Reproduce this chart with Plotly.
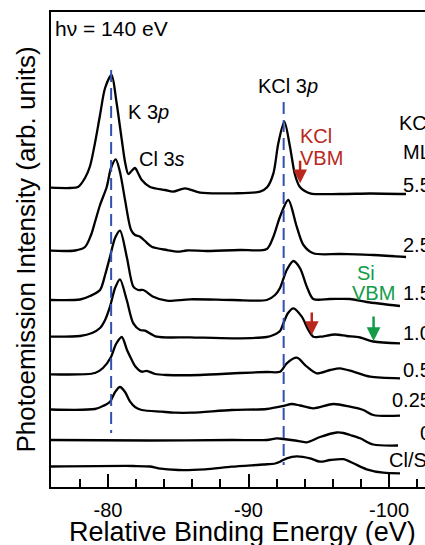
import plotly.graph_objects as go

# ---------------- data (relative binding energy in eV, intensity in arb. units, stacked) ----------------
E_55 = [-75.94, -77.30, -77.86, -78.36, -78.72, -79.07, -79.43, -79.79, -80.25, -80.60, -80.98, -81.21,
        -81.44, -81.67, -81.92, -82.17, -82.40, -82.99, -84.06, -84.63, -85.48, -86.55, -88.90, -90.82,
        -91.32, -91.77, -92.12, -92.55, -92.95, -93.31, -93.67, -94.38, -96.51, -98.65, -101.21]
I_55 = [29.93, 29.90, 30.00, 30.90, 32.10, 34.40, 37.20, 39.90, 41.20, 38.50, 34.70, 32.50,
        31.30, 31.60, 31.90, 31.30, 30.70, 30.00, 29.70, 29.53, 29.87, 29.43, 29.37, 29.53,
        29.97, 31.37, 34.37, 36.53, 34.03, 31.20, 29.97, 29.37, 29.30, 29.35, 29.30]

E_25 = [-75.94, -77.65, -78.36, -78.79, -79.07, -79.43, -79.91, -80.21, -80.55, -80.85, -81.21, -81.64,
        -81.92, -82.28, -82.63, -83.11, -84.18, -84.98, -85.60, -87.02, -89.39, -91.30, -91.77, -92.24,
        -92.83, -93.43, -93.91, -94.61, -96.51, -98.88, -101.21]
I_25 = [23.63, 23.65, 24.00, 25.20, 26.50, 28.20, 30.03, 31.90, 32.77, 31.50, 28.70, 25.70,
        25.20, 25.03, 24.60, 24.03, 23.70, 23.53, 23.65, 23.60, 23.70, 23.80, 25.03, 27.03,
        28.70, 26.03, 24.20, 23.37, 23.30, 23.20, 23.00]

E_15 = [-75.94, -78.01, -78.72, -79.43, -79.79, -80.14, -80.50, -80.85, -81.33, -81.80, -82.14, -82.51,
        -83.22, -84.18, -85.84, -88.90, -91.30, -91.89, -92.24, -92.72, -93.19, -93.67, -94.15, -94.61,
        -95.80, -97.22, -98.41, -100.78]
I_15 = [18.70, 18.75, 19.10, 19.70, 21.20, 23.03, 24.90, 25.63, 23.03, 20.03, 19.70, 19.70,
        19.03, 18.63, 18.77, 18.70, 18.70, 19.20, 19.90, 21.70, 22.60, 21.87, 20.03, 18.80,
        18.80, 18.80, 18.50, 18.10]

E_10 = [-75.94, -78.01, -78.86, -79.43, -79.79, -80.14, -80.50, -80.85, -81.33, -81.80, -82.28, -82.63,
        -83.47, -85.84, -88.92, -91.30, -91.77, -92.24, -92.48, -92.81, -93.19, -93.79, -94.26, -94.61,
        -95.09, -96.16, -96.99, -97.94, -98.88, -100.78]
I_10 = [15.03, 15.10, 15.40, 15.90, 16.70, 18.03, 19.90, 20.77, 18.70, 16.37, 15.70, 15.63,
        15.03, 14.97, 14.87, 15.00, 15.20, 15.60, 16.37, 17.40, 17.87, 17.03, 15.70, 15.03,
        15.03, 15.25, 15.10, 14.95, 14.55, 14.37]

E_05 = [-75.94, -79.07, -79.64, -80.21, -80.57, -80.98, -81.35, -81.69, -81.92, -82.40, -82.75, -83.35,
        -84.18, -86.55, -89.39, -91.30, -92.24, -92.72, -93.43, -94.15, -94.85, -95.80, -96.51, -97.46,
        -98.65, -100.78]
I_05 = [11.27, 11.40, 11.90, 13.00, 14.30, 15.00, 13.70, 12.70, 12.10, 11.53, 11.62, 11.30,
        11.20, 11.20, 11.40, 11.50, 11.53, 12.37, 12.93, 12.03, 11.37, 11.70, 11.87, 11.53,
        11.03, 10.87]

E_025 = [-75.94, -79.07, -79.64, -80.14, -80.50, -80.85, -81.21, -81.57, -81.92, -82.40, -83.82, -84.77,
         -85.96, -88.80, -91.30, -92.48, -93.07, -93.67, -94.61, -96.04, -97.22, -98.17, -98.88, -100.78]
I_025 = [7.75, 7.80, 8.10, 8.53, 9.50, 10.00, 9.50, 8.53, 8.00, 7.70, 7.53, 7.43,
         7.43, 7.70, 7.80, 8.10, 8.30, 8.15, 7.87, 8.30, 8.03, 7.70, 7.20, 7.13]

E_0 = [-75.94, -82.99, -88.80, -91.30, -92.01, -92.48, -93.31, -94.15, -95.09, -96.28, -96.75, -97.22,
       -97.94, -98.88, -100.64]
I_0 = [4.70, 4.65, 4.70, 4.70, 4.87, 4.80, 4.65, 4.47, 5.00, 5.45, 5.40, 5.20,
       4.87, 4.25, 4.15]

E_CLSI = [-75.94, -81.80, -82.99, -83.58, -85.00, -86.90, -88.80, -91.05, -91.89, -92.24, -92.72, -93.43,
          -94.38, -95.09, -95.80, -96.75, -97.46, -98.41, -99.59, -100.78]
I_CLSI = [2.05, 2.10, 2.05, 1.87, 1.70, 1.77, 2.03, 2.25, 2.35, 2.53, 2.87, 3.07,
          2.87, 2.53, 2.70, 2.78, 2.37, 1.77, 1.43, 1.37]

SERIES_E = [E_55, E_25, E_15, E_10, E_05, E_025, E_0, E_CLSI]
SERIES_I = [I_55, I_25, I_15, I_10, I_05, I_025, I_0, I_CLSI]
COVERAGE_LABELS = ["5.5", "2.5", "1.5", "1.0", "0.5", "0.25", "0", "Cl/Si"]
LABEL_Y = [30.2, 24.2, 19.37, 15.37, 11.7, 8.7, 5.37, 2.7]

K3P_E = -80.22
KCL3P_E = -92.5
KCL_VBM_E = [-93.67, -94.5]
KCL_VBM_I = [30.37, 15.2]
SI_VBM_E = -98.9
SI_VBM_I = 14.6

X_TICKS = [-80, -90, -100]
X_TICK_TEXT = ["-80", "-90", "-100"]
X_MINOR = [-78, -82, -84, -86, -88, -92, -94, -96, -98, -102]

FONT = "Liberation Sans, Arial, sans-serif"
RED = "#b8281c"
GREEN = "#129c48"
BLUE = "#3350b0"

fig = go.Figure()
for e, i in zip(SERIES_E, SERIES_I):
    fig.add_trace(go.Scatter(x=e, y=i, mode="lines", line=dict(color="black", width=2.3, shape="spline", smoothing=0.8),
                             showlegend=False, hoverinfo="skip"))

fig.add_trace(go.Scatter(x=[K3P_E, K3P_E], y=[41.7, 5.4], mode="lines",
                         line=dict(color=BLUE, width=2, dash="12px,6px"), showlegend=False))
fig.add_trace(go.Scatter(x=[KCL3P_E, KCL3P_E], y=[38.5, 2.2], mode="lines",
                         line=dict(color=BLUE, width=2, dash="12px,6px"), showlegend=False))

ann = []
def txt(x, y, s, color="black", xanchor="left", size=20, xref="x", yref="y"):
    ann.append(dict(x=x, y=y, xref=xref, yref=yref, text=s, showarrow=False, xanchor=xanchor,
                    yanchor="middle", font=dict(family=FONT, size=size, color=color)))

txt(-76.10, 45.87, "hν = 140 eV", size=21)
txt(-81.28, 37.53, "K 3<i>p</i>")
txt(-82.08, 32.77, "Cl 3<i>s</i>")
txt(-90.55, 40.1, "KCl 3<i>p</i>")
txt(-93.55, 35.1, "KCl", RED)
txt(-93.52, 32.87, "VBM", RED)
txt(-98.35, 21.37, "Si", GREEN, "center")
txt(-98.91, 19.37, "VBM", GREEN, "center")

# labels at the right edge (outside the x range -> paper x)
RIGHT_X = 1.0222
txt(RIGHT_X, 36.4, "KCl", xanchor="right", xref="paper")
txt(RIGHT_X, 33.53, "ML", xanchor="right", xref="paper")
for lab, ly in zip(COVERAGE_LABELS, LABEL_Y):
    txt(RIGHT_X, ly, lab, xanchor="right", xref="paper")

for xe, yi in zip(KCL_VBM_E, KCL_VBM_I):
    ann.append(dict(x=xe, y=yi, xref="x", yref="y", text="", showarrow=True, ax=0, ay=-24,
                    arrowhead=2, arrowsize=1.1, arrowwidth=2.5, arrowcolor=RED))
ann.append(dict(x=SI_VBM_E, y=SI_VBM_I, xref="x", yref="y", text="", showarrow=True, ax=0, ay=-26,
                arrowhead=2, arrowsize=1.1, arrowwidth=2.5, arrowcolor=GREEN))

# axis titles
txt(0.5126, -0.0950, "Relative Binding Energy (eV)", xanchor="center", size=27, xref="paper", yref="paper")
ann.append(dict(x=-0.0695, y=0.5, xref="paper", yref="paper", text="Photoemission Intensity (arb. units)",
                showarrow=False, textangle=-90, xanchor="center", yanchor="middle",
                font=dict(family=FONT, size=26, color="black")))

fig.update_layout(
    width=425, height=545,
    margin=dict(l=51, r=0, t=12, b=58),
    paper_bgcolor="white", plot_bgcolor="white",
    annotations=ann,
    showlegend=False,
    xaxis=dict(range=[-75.94, -102.56], showline=True, linewidth=2, linecolor="black", mirror=True,
               ticks="inside", ticklen=13, tickwidth=2, tickcolor="black",
               tickmode="array", tickvals=X_TICKS, ticktext=X_TICK_TEXT, ticklabelstandoff=4,
               minor=dict(tickmode="array", tickvals=X_MINOR, ticks="inside", ticklen=8, tickwidth=2, tickcolor="black"),
               tickfont=dict(family=FONT, size=20, color="black"),
               showgrid=False, zeroline=False),
    yaxis=dict(range=[0, 47.5], showline=True, linewidth=2, linecolor="black", mirror=False,
               ticks="", showticklabels=False, showgrid=False, zeroline=False),
)
fig.write_html("out.html")
